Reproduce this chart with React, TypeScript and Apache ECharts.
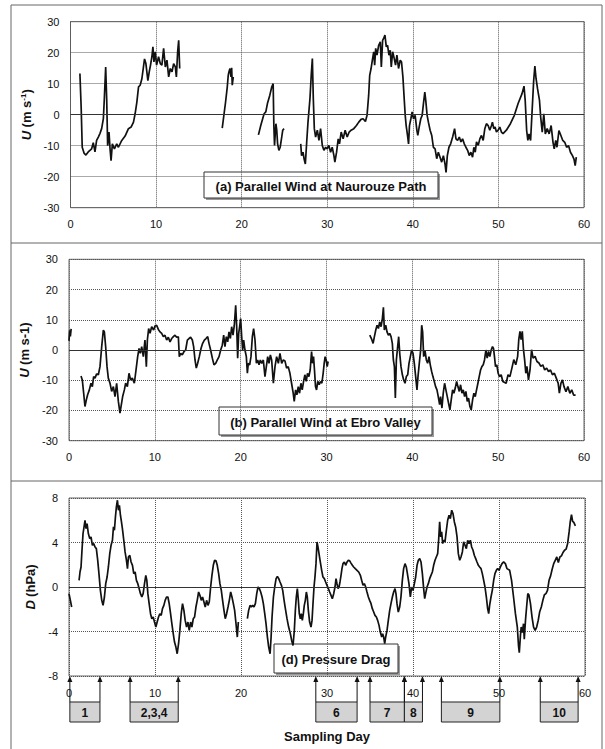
import React, { useEffect, useRef } from "react";
import * as echarts from "echarts";

type P = [number, number] | null;

// (a) Parallel wind at Naurouze Path (m s-1); null = data gap
const naurouzeWind: P[] = [
  [1.10,13.3],[1.25,2],[1.37,-10.5],[1.6,-12.5],[1.80,-13],[2.07,-12],[2.47,-11],[2.66,-9],[2.86,-12],[3.05,-8.3],[3.25,-7.2],[3.45,-6],[3.64,-4.5],[3.84,-1.3],[3.95,5],[4.11,15.4],[4.23,5],[4.34,-10],[4.50,-5.6],[4.62,-11],[4.74,-14.8],[4.89,-9.4],[5.13,-11],[5.40,-9.4],[5.60,-10.5],[5.99,-8.3],[6.38,-6.9],[6.77,-4.5],[7.08,-4],[7.36,-2.4],[7.55,0.3],[7.75,4],[7.95,9],[8.14,9.5],[8.34,11.6],[8.65,18],[8.81,16.5],[9.04,11],[9.20,13.8],[9.35,16],[9.51,18.7],[9.63,21.9],[9.75,17],[9.90,20.3],[10.06,16],[10.29,18.7],[10.49,16.5],[10.68,16],[10.88,21.4],[11.08,15.4],[11.27,17.6],[11.47,12.2],[11.66,14.9],[11.86,13.8],[12.05,16.5],[12.25,15.4],[12.37,12.2],[12.52,20.3],[12.64,24],[12.76,14.9],
  null,
  [17.73,-4.3],[18.12,4.1],[18.32,9],[18.43,12.7],[18.51,13.8],[18.63,14.9],[18.75,12.2],[18.83,15.1],[18.90,9.5],[19.02,12.2],
  null,
  [21.96,-6.5],[22.23,-3.5],[22.62,0.3],[22.82,0.9],[23.01,3.6],[23.29,6.3],[23.52,9],[23.68,10],[23.76,-3.5],[23.84,-9.9],[24.0,-2.9],[24.1,-5],[24.2,-9.4],[24.35,-11.5],[24.5,-10.5],[24.65,-7.8],[24.8,-5],[24.95,-4.5],
  null,
  [26.9,-9.4],[27.0,-13.2],[27.17,-12.1],[27.29,-14.2],[27.44,-15.9],[27.6,-8.8],[27.75,-2.4],[27.98,5.2],[28.14,13.3],[28.26,18.1],[28.37,5.2],[28.49,-4.5],[28.64,-7.2],[28.84,-5],[29.03,-8.3],[29.22,-4.5],[29.42,-9.9],[29.61,-11.5],[29.81,-10.5],[30.0,-11],[30.19,-9.9],[30.39,-12.1],[30.58,-10.5],[30.78,-13.2],[30.89,-15.3],[31.09,-12.1],[31.28,-7.8],[31.43,-9.4],[31.63,-5.6],[31.86,-7.8],[32.09,-5],[32.33,-7.2],[32.56,-5.6],[32.79,-5],[33.1,-4.5],[33.41,-3.5],[33.68,-2.4],[33.95,-1.5],[34.19,-1.3],[34.46,-2.2],[34.65,-0.2],[34.84,6.3],[34.96,12.7],[35.12,14.9],[35.27,17.6],[35.43,20.3],[35.54,16],[35.66,21.4],[35.81,19.2],[36.01,22.4],[36.2,23.5],[36.32,15.4],[36.47,24],[36.59,24.6],[36.74,25.7],[36.9,21.9],[37.05,22.4],[37.21,19.2],[37.36,20.8],[37.48,15.4],[37.64,20.3],[37.83,18.1],[37.98,16],[38.14,19.2],[38.33,14.9],[38.53,17.6],[38.68,17],[38.84,12.2],[38.99,5.2],[39.11,-0.2],[39.22,-3.5],[39.38,-6.7],[39.5,-9.4],[39.61,-3.5],[39.77,-1.3],[39.92,0.9],[40.08,-1.3],[40.27,-0.2],[40.47,-5],[40.58,-6.7],[40.74,-4],[40.93,-1.3],[41.09,-0.2],[41.24,3.6],[41.4,7.3],[41.51,4.6],[41.67,-0.2],[41.82,-2.4],[42.02,-5],[42.21,-6.7],[42.4,-10.5],[42.6,-11],[42.79,-14.2],[42.98,-12.1],[43.18,-13.7],[43.37,-15.3],[43.57,-13.2],[43.76,-15.9],[43.88,-18.6],[44.03,-13.2],[44.22,-10.5],[44.42,-9.4],[44.65,-7.2],[44.88,-4.5],[45.04,-7.8],[45.23,-8.3],[45.43,-7.2],[45.62,-8.8],[45.81,-7.8],[46.01,-9.4],[46.2,-10.5],[46.4,-11.5],[46.59,-13.2],[46.78,-12.1],[46.98,-13.7],[47.13,-10.5],[47.29,-12.1],[47.44,-8.8],[47.64,-9.9],[47.83,-7.8],[48.02,-6.7],[48.22,-8.3],[48.41,-4.5],[48.6,-2.9],[48.8,-3.5],[48.99,-5],[49.19,-3.5],[49.3,-2.4],[49.46,-4.5],[49.61,-4],[49.77,-5.6],[49.96,-5],[50.16,-4],[50.35,-5.6],[50.54,-6.1],[50.93,-5],[51.4,-2.9],[51.86,-0.2],[52.3,3.6],[52.76,6.8],[52.99,9.2],[53.13,4.6],[53.3,-5.1],[53.44,-8.3],[53.58,-6.2],[53.76,-8.3],[53.94,1.4],[54.12,11],[54.26,15.7],[54.4,11.6],[54.57,8.4],[54.8,4.6],[54.94,-0.8],[55.12,-5.6],[55.3,0.3],[55.48,-6.2],[55.7,-4.5],[55.93,-6.2],[56.16,-3.5],[56.38,-8.9],[56.52,-11],[56.7,-8.3],[56.84,-10.5],[57.07,-5.1],[57.3,-6.7],[57.52,-8.3],[57.75,-8.9],[57.97,-10.5],[58.2,-10],[58.42,-12.1],[58.65,-13.2],[58.83,-14.3],[58.97,-16.4],[59.1,-13.7]
];

// (b) Parallel wind at Ebro Valley (m s-1)
const ebroWind: P[] = [
  [0,3],[0.08,6.5],[0.16,4.5],[0.25,7],
  null,
  [1.4,-8.6],[1.55,-9.9],[1.71,-14.3],[1.86,-18.7],[2.02,-16.5],[2.17,-14.8],[2.37,-13.2],[2.56,-11],[2.72,-12.1],[2.87,-8.8],[3.03,-9.3],[3.22,-7.9],[3.42,-8.2],[3.61,-5.5],[3.81,1.1],[4.0,6.6],[4.12,6],[4.27,1.1],[4.43,-5.5],[4.58,-9.3],[4.78,-11],[4.97,-13.7],[5.17,-12.1],[5.36,-15.4],[5.55,-11],[5.75,-17],[5.94,-20.9],[6.06,-18.7],[6.25,-15.4],[6.45,-13.2],[6.6,-11],[6.8,-12.1],[6.99,-7.7],[7.18,-9.9],[7.38,-9.3],[7.61,-11],[7.81,-6.6],[8.0,-2.2],[8.16,0.5],[8.31,-1.1],[8.47,1.1],[8.66,-2.2],[8.85,3.3],[9.01,-5.5],[9.13,3.3],[9.28,7.1],[9.44,5.5],[9.63,7.7],[9.86,6.6],[10.02,7.9],[10.21,8.2],[10.41,6.8],[10.6,6],[10.8,5.5],[10.99,4.4],[11.18,4.9],[11.38,3.3],[11.57,4.2],[11.77,2.7],[11.96,3.8],[12.16,4.4],[12.35,4.9],[12.54,4.2],[12.74,4.4],[12.85,-2.2],[13.01,-1.1],[13.2,-1.6],[13.4,-0.5],[13.59,0],[13.79,3.3],[13.98,3.8],[14.17,4.2],[14.37,3.3],[14.52,1.1],[14.68,-3.3],[14.83,-6],[14.99,-4.4],[15.18,-2.2],[15.38,0.5],[15.57,2.2],[15.77,3.3],[15.96,3.8],[16.16,4.4],[16.31,2.2],[16.5,0],[16.7,-2.7],[16.89,-4.9],[17.09,-4.4],[17.28,-3.3],[17.48,-2.2],[17.67,0],[17.86,1.6],[18.02,4.9],[18.17,1.1],[18.33,4.4],[18.49,2.7],[18.64,6],[18.8,3.8],[18.95,7.7],[19.11,4.9],[19.26,8.2],[19.42,14.8],[19.53,8.2],[19.65,-2.7],[19.77,5.5],[19.88,7.7],[20.0,10.4],[20.12,4.4],[20.23,0],[20.35,3.3],[20.5,0],[20.66,-2.2],[20.78,-7.7],[20.89,-4.4],[21.05,-4.9],[21.2,-2.2],[21.36,4.4],[21.51,7.1],[21.67,3.3],[21.83,-4.4],[21.98,-3.3],[22.14,-4.9],[22.29,-3.3],[22.45,-4.4],[22.64,-3.3],[22.83,-8.8],[22.99,-5.5],[23.15,-2.2],[23.3,-4.4],[23.46,-1.6],[23.61,-3.3],[23.81,-11],[24.0,-5.5],[24.19,-2.2],[24.39,-4.4],[24.58,-1.1],[24.78,-4.4],[24.97,-3.3],[25.16,-3.6],[25.35,-6],[25.54,-5.5],[25.74,-7.7],[25.93,-11],[26.12,-14.3],[26.24,-17],[26.4,-13.2],[26.55,-14.8],[26.71,-12.1],[26.86,-14.3],[27.02,-11],[27.17,-13.2],[27.33,-10.4],[27.48,-8.2],[27.64,-10.4],[27.79,-7.7],[27.95,-8.8],[28.1,-6.6],[28.26,-0.5],[28.37,-4.4],[28.49,-2.2],[28.6,-6.6],[28.72,-12.1],[28.84,-13.2],[28.99,-10.4],[29.15,-11.5],[29.3,-10.4],[29.46,-11],[29.61,-7.7],[29.73,-4.4],[29.84,-2.2],[29.96,-3.3],[30.08,-5.5],[30.19,-3.8],
  null,
  [35.04,4.9],[35.23,3.8],[35.43,2.2],[35.58,4.4],[35.74,6.6],[35.89,8.2],[36.05,7.1],[36.2,9.3],[36.36,7.7],[36.51,10.4],[36.63,14.1],[36.74,6.6],[36.9,8.2],[37.05,6],[37.21,4.9],[37.36,5.5],[37.52,4.4],[37.67,2.2],[37.79,-3.3],[37.91,-5.5],[38.02,-15.9],[38.14,-3.3],[38.29,1.1],[38.41,4.4],[38.53,-1.1],[38.68,-5.5],[38.84,-8.2],[38.99,-9.9],[39.15,-11],[39.3,-8.8],[39.46,-8.2],[39.61,-4.4],[39.77,-2.2],[39.92,0],[40.08,-1.1],[40.23,-4.4],[40.39,-8.8],[40.54,-13.2],[40.66,-8.8],[40.81,-4.4],[40.97,0],[41.09,8.2],[41.2,6],[41.32,-2.2],[41.47,0],[41.63,-3.3],[41.78,-4.4],[41.94,-2.2],[42.09,-4.9],[42.25,-7.1],[42.4,-8.8],[42.56,-10.4],[42.71,-12.1],[42.87,-13.2],[43.02,-15.4],[43.18,-18.1],[43.29,-15.4],[43.45,-19.2],[43.6,-14.3],[43.76,-11],[43.91,-13.2],[44.07,-15.4],[44.22,-17.6],[44.38,-19.8],[44.53,-16.5],[44.69,-13.2],[44.84,-14.3],[45.0,-12.6],[45.16,-10.4],[45.31,-12.1],[45.47,-13.7],[45.62,-11.5],[45.78,-14.3],[45.93,-13.2],[46.09,-15.4],[46.24,-13.7],[46.4,-17],[46.55,-15.9],[46.71,-18.7],[46.86,-19.8],[47.02,-16.5],[47.17,-14.3],[47.33,-15.4],[47.48,-13.2],[47.64,-11],[47.79,-8.8],[47.95,-6.6],[48.1,-5.5],[48.26,-4.9],[48.41,-3.3],[48.57,0],[48.72,-2.7],[48.88,-0.5],[49.03,-2.2],[49.19,0],[49.34,1.1],[49.46,0.5],[49.57,-2.2],[49.69,-5.5],[49.84,-4.9],[50.0,-7.7],[50.16,-8.8],[50.35,-8.2],[50.54,-10.4],[50.93,-11],[51.15,-8.2],[51.37,-8.8],[51.6,-6],[51.82,-3.2],[52.05,-4.9],[52.27,-2.1],[52.4,3.4],[52.54,6.2],[52.67,3.4],[52.81,6.2],[52.95,0.1],[53.08,-3.2],[53.22,-7.7],[53.35,-5.4],[53.53,-9.9],[53.71,-6.6],[53.89,0.1],[54.07,-2.7],[54.3,-2.1],[54.52,-3.8],[54.75,-4.3],[54.97,-5.4],[55.2,-4.9],[55.42,-6.6],[55.65,-6],[55.87,-7.1],[56.1,-6.6],[56.32,-8.2],[56.55,-7.7],[56.77,-9.3],[56.99,-11],[57.13,-14.3],[57.31,-11],[57.49,-9.9],[57.67,-12.1],[57.9,-13.8],[58.12,-12.1],[58.35,-14.3],[58.57,-13.2],[58.79,-14.9],[59.02,-14.9]
];

// (d) Pressure drag (hPa)
const pressureDrag: P[] = [
  [0,-0.6],[0.16,-1.2],[0.31,-1.8],
  null,
  [1.17,0.6],[1.28,1.35],[1.4,1.8],[1.51,3.3],[1.63,4.8],[1.75,5.4],[1.86,6],[1.98,5.25],[2.1,5.7],[2.25,4.8],[2.41,4.35],[2.56,4.5],[2.72,3.75],[2.87,3.9],[3.03,3.6],[3.18,3.45],[3.34,2.4],[3.5,1.05],[3.65,-0.3],[3.81,-1.2],[3.96,-1.65],[4.12,-0.9],[4.27,0.3],[4.43,0.9],[4.58,1.8],[4.74,3],[4.89,3.75],[5.05,4.2],[5.17,5.4],[5.28,5.1],[5.4,6.3],[5.51,7.2],[5.63,7.8],[5.75,6.9],[5.86,7.35],[5.98,6.45],[6.1,5.85],[6.21,5.25],[6.37,4.2],[6.52,3.15],[6.68,2.4],[6.8,1.65],[6.91,2.7],[7.07,2.85],[7.22,2.25],[7.38,1.95],[7.53,1.2],[7.69,1.35],[7.84,0.6],[8.0,0.3],[8.16,-0.15],[8.31,-0.6],[8.47,-0.9],[8.62,-0.6],[8.78,0.3],[8.93,1.05],[9.05,0.6],[9.17,-0.6],[9.32,-1.5],[9.48,-2.4],[9.63,-2.85],[9.79,-2.7],[9.94,-3.15],[10.1,-3.6],[10.25,-3.15],[10.41,-2.7],[10.56,-2.4],[10.72,-2.55],[10.87,-1.95],[11.03,-1.65],[11.18,-1.2],[11.34,-0.9],[11.5,-0.9],[11.65,-1.5],[11.81,-2.4],[11.96,-3.3],[12.12,-4.2],[12.27,-4.95],[12.43,-5.4],[12.58,-6],[12.74,-5.1],[12.89,-3.9],[13.05,-2.4],[13.2,-1.5],[13.36,-2.1],[13.51,-3],[13.67,-3.6],[13.83,-3.15],[13.98,-3.9],[14.14,-3.15],[14.29,-3.6],[14.45,-2.85],[14.6,-2.7],[14.76,-1.8],[14.91,-1.2],[15.07,-0.45],[15.22,-0.75],[15.38,-1.2],[15.53,-0.9],[15.69,-1.35],[15.84,-1.8],[16.0,-1.2],[16.16,-1.65],[16.31,-1.35],[16.47,0],[16.62,1.05],[16.78,1.95],[16.93,2.4],[17.09,2.35],[17.24,1.95],[17.4,1.2],[17.55,0.3],[17.71,-0.3],[17.86,-1.2],[18.02,-2.1],[18.17,-2.85],[18.33,-2.4],[18.49,-1.8],[18.64,-1.2],[18.8,-0.45],[18.95,-0.9],[19.11,-1.5],[19.26,-2.1],[19.42,-3.3],[19.57,-4.5],[19.69,-3.15],
  null,
  [20.74,-2.85],[20.89,-2.1],[21.05,-1.65],[21.2,-1.8],[21.36,-1.65],[21.51,-1.8],[21.67,-1.5],[21.83,-0.6],[21.98,0],[22.14,-0.15],[22.29,-0.45],[22.45,-0.9],[22.6,-1.5],[22.76,-2.4],[22.91,-3.3],[23.07,-4.5],[23.22,-5.4],[23.38,-6],[23.5,-4.5],[23.61,-2.7],[23.77,-0.9],[23.92,0],[24.08,0.75],[24.23,0.95],[24.39,0.75],[24.54,0.45],[24.7,0.15],[24.85,-0.3],[25.01,-1.2],[25.16,-1.95],[25.35,-2.85],[25.54,-3.6],[25.74,-4.2],[25.89,-4.8],[26.05,-5.25],[26.2,-3.9],[26.32,-2.1],[26.43,-0.9],[26.55,-0.15],[26.67,-1.2],[26.78,-2.4],[26.9,-2.85],[27.02,-2.4],[27.13,-3],[27.25,-2.4],[27.36,-1.65],[27.48,-1.2],[27.6,-0.45],[27.71,-0.9],[27.83,-2.1],[27.98,-3.15],[28.14,-3.6],[28.26,-3],[28.37,-1.5],[28.49,0],[28.6,0.9],[28.72,2.1],[28.84,4.05],[28.95,3.6],[29.07,3],[29.22,2.25],[29.38,1.5],[29.53,0.9],[29.69,0.75],[29.84,0.45],[30.0,0.15],[30.16,-0.15],[30.31,-0.45],[30.47,-0.75],[30.62,-1.05],[30.78,-0.6],[30.93,0],[31.05,0.75],[31.16,0.3],[31.28,-0.15],[31.4,0],[31.51,0.45],[31.63,1.05],[31.74,1.65],[31.86,2.1],[32.02,2.25],[32.17,1.95],[32.33,2.25],[32.48,2.4],[32.64,2.35],[32.79,2.15],[32.95,1.95],[33.1,1.8],[33.29,1.65],[33.49,1.5],[33.68,1.35],[33.88,1.05],[34.03,0.6],[34.19,0.15],[34.34,0.3],[34.5,0],[34.65,-0.45],[34.81,-0.9],[34.96,-1.2],[35.12,-1.5],[35.27,-1.95],[35.43,-2.25],[35.58,-2.55],[35.74,-2.7],[35.89,-3],[36.05,-3.45],[36.2,-4.05],[36.36,-4.5],[36.47,-4.2],[36.59,-4.5],[36.71,-5.1],[36.82,-4.5],[36.98,-3.9],[37.13,-3],[37.29,-2.1],[37.44,-1.5],[37.6,-0.9],[37.75,-0.45],[37.91,-0.15],[38.02,-0.6],[38.14,-1.5],[38.29,-2.25],[38.45,-1.8],[38.6,-0.9],[38.76,0.6],[38.91,1.65],[39.07,2.1],[39.22,1.8],[39.38,1.05],[39.53,0.3],[39.69,-0.9],[39.84,0],[40.0,-0.3],[40.16,0.3],[40.31,0.9],[40.47,1.95],[40.62,2.4],[40.78,2.55],[40.93,2.25],[41.09,1.2],[41.24,-0.15],[41.36,-1.05],[41.47,-0.6],[41.63,0],[41.78,0.3],[41.94,0.75],[42.09,1.05],[42.25,1.35],[42.4,1.95],[42.56,2.4],[42.71,2.7],[42.87,3],[42.98,4.2],[43.1,5.85],[43.22,4.5],[43.33,4.95],[43.45,3.9],[43.57,4.2],[43.72,4.05],[43.88,5.1],[44.03,6],[44.19,6.45],[44.34,6.15],[44.5,6.9],[44.65,6.6],[44.81,5.85],[44.96,5.4],[45.12,4.5],[45.27,3],[45.43,2.4],[45.58,2.7],[45.74,3.15],[45.89,4.05],[46.05,3.75],[46.2,3.45],[46.36,4.2],[46.51,3.9],[46.67,4.2],[46.82,3.6],[46.98,3.3],[47.13,2.85],[47.29,2.55],[47.44,2.25],[47.6,1.95],[47.75,1.8],[47.91,1.65],[48.06,1.2],[48.22,0.6],[48.37,0],[48.53,-0.9],[48.68,-1.95],[48.8,-2.4],[48.91,-1.65],[49.07,-0.9],[49.22,-0.3],[49.38,0.6],[49.53,1.2],[49.69,1.5],[49.84,1.65],[50.0,1.5],[50.16,1.8],[50.35,2.1],[50.54,2.25],[50.74,2.1],[50.93,1.65],[51.24,1.5],[51.46,0.6],[51.69,-0.9],[51.91,-2.4],[52.13,-3.6],[52.27,-5.3],[52.36,-5.9],[52.49,-4.4],[52.58,-3.6],[52.72,-4.1],[52.85,-3.3],[52.94,-4.7],[53.08,-3],[53.21,-1.8],[53.35,-0.6],[53.48,-0.7],[53.66,-1.5],[53.84,-2.7],[54.02,-3.6],[54.2,-3.9],[54.38,-3.6],[54.56,-3],[54.74,-2.2],[54.92,-1.8],[55.1,-1.2],[55.28,-0.7],[55.46,-0.6],[55.64,-0.3],[55.82,0.6],[56.0,1],[56.18,1.6],[56.36,2.1],[56.54,2.4],[56.72,2.7],[56.9,2.2],[57.08,2.7],[57.26,2.8],[57.44,3.1],[57.62,3.3],[57.8,3.4],[57.98,3.9],[58.16,5],[58.29,5.9],[58.43,6.5],[58.56,5.9],[58.7,5.8],[58.88,5.5]
];

// Sampling-period boxes below the day axis
const eventLabels = ["1", "2,3,4", "6", "7", "8", "9", "10"];
const eventStart = [0.1, 7.1, 28.7, 35.0, 39.0, 43.3, 54.8];
const eventEnd = [3.6, 12.7, 33.5, 39.0, 41.1, 50.1, 59.2];

const dayTicks = { min: 0, max: 60, interval: 10 };
const windTicks = { min: -30, max: 30, interval: 10 };
const dragTicks = { min: -8, max: 8, interval: 4 };

const FONT = 'Arial, "Liberation Sans", Helvetica, sans-serif';

function segments(data: P[]): [number, number][][] {
  const out: [number, number][][] = [];
  let cur: [number, number][] = [];
  for (const p of data) {
    if (p === null) {
      if (cur.length) out.push(cur);
      cur = [];
    } else cur.push(p);
  }
  if (cur.length) out.push(cur);
  return out;
}

export default function App() {
  const ref = useRef<HTMLDivElement>(null);
  useEffect(() => {
    if (!ref.current) return;
    const chart = echarts.init(ref.current, undefined, { renderer: "svg" });

    const grids = [
      { left: 70.5, top: 21.7, width: 513.5, height: 186 },
      { left: 69, top: 259.3, width: 515, height: 181.4 },
      { left: 69, top: 498, width: 516, height: 178 },
      { left: 69, top: 676, width: 516, height: 46 },
    ].map((g) => ({
      ...g,
      show: g.top < 670,
      borderColor: "#666",
      borderWidth: 1,
      backgroundColor: "transparent",
      containLabel: false,
    }));

    const labelStyle = { fontFamily: FONT, fontSize: 11, color: "#111" };
    const mkX = (i: number) => ({
      type: "value",
      gridIndex: i,
      ...dayTicks,
      show: i < 3,
      axisLine: { show: false },
      axisTick: { show: false },
      axisLabel: { ...labelStyle, margin: 11 },
      splitLine: { show: true, lineStyle: { type: "dotted", color: "#555", width: 1 } },
    });
    const nameRich = {
      i: { fontFamily: FONT, fontSize: 13, fontWeight: "bold", fontStyle: "italic", color: "#111" },
      b: { fontFamily: FONT, fontSize: 13, fontWeight: "bold", color: "#111" },
      s: { fontFamily: FONT, fontSize: 8, fontWeight: "bold", color: "#111", verticalAlign: "top", padding: [0, 0, 6, 0] },
    };
    const mkY = (i: number, ticks: any, name: string) => ({
      type: "value",
      gridIndex: i,
      ...ticks,
      name,
      nameLocation: "middle",
      nameGap: 25,
      nameRotate: 90,
      nameTextStyle: { rich: nameRich },
      axisLine: { show: false },
      axisTick: { show: false },
      axisLabel: { ...labelStyle, margin: 11 },
      splitLine: { show: true, lineStyle: { type: "dotted", color: "#555", width: 1 } },
    });

    const zeroLine = {
      silent: true,
      symbol: ["none", "none"],
      label: { show: false },
      lineStyle: { color: "#333", type: "solid", width: 1 },
      data: [{ yAxis: 0 }],
    };

    const series: any[] = [];
    [naurouzeWind, ebroWind, pressureDrag].forEach((d, i) => {
      segments(d).forEach((seg, j) => {
        series.push({
          type: "line",
          xAxisIndex: i,
          yAxisIndex: i,
          data: seg,
          symbol: "none",
          showSymbol: false,
          silent: true,
          z: 3,
          lineStyle: { color: "#111", width: 1.7 },
          markLine: j === 0 ? zeroLine : undefined,
        });
      });
    });

    series.push({
      type: "custom",
      xAxisIndex: 3,
      yAxisIndex: 3,
      clip: false,
      silent: true,
      data: eventStart.map((s, k) => [s, eventEnd[k]]),
      renderItem: (params: any, api: any) => {
        const s = api.value(0);
        const e = api.value(1);
        const [xs, yTop] = api.coord([s, 1]);
        const [xe, yBot] = api.coord([e, 0]);
        const boxTop = api.coord([s, 0.435])[1];
        const arrow = (x: number) => [
          { type: "line", shape: { x1: x, y1: yTop + 4, x2: x, y2: boxTop }, style: { stroke: "#111", lineWidth: 1 } },
          { type: "polygon", shape: { points: [[x, yTop], [x - 2.5, yTop + 6], [x + 2.5, yTop + 6]] }, style: { fill: "#111" } },
        ];
        return {
          type: "group",
          children: [
            { type: "rect", shape: { x: xs, y: boxTop, width: xe - xs, height: yBot - boxTop }, style: { fill: "#d3d3d3", stroke: "#222", lineWidth: 1 } },
            ...arrow(xs),
            ...arrow(xe),
            {
              type: "text",
              style: {
                text: eventLabels[params.dataIndex],
                x: (xs + xe) / 2,
                y: (boxTop + yBot) / 2 + 1,
                align: "center",
                verticalAlign: "middle",
                font: `bold 12px ${FONT}`,
                fill: "#111",
              },
            },
          ],
        };
      },
    });

    const titleBox = (x: number, y: number, w: number, h: number, text: string) => ({
      type: "group",
      children: [
        { type: "rect", shape: { x: x + 2, y: y + 2, width: w, height: h }, style: { fill: "#999" } },
        { type: "rect", shape: { x, y, width: w, height: h }, style: { fill: "#fff", stroke: "#333", lineWidth: 1 } },
        {
          type: "text",
          style: { text, x: x + w / 2, y: y + h / 2 + 1, align: "center", verticalAlign: "middle", font: `bold 13px ${FONT}`, fill: "#111" },
        },
      ],
    });

    const frameLine = (x1: number, y1: number, x2: number, y2: number) => ({
      type: "line",
      shape: { x1, y1, x2, y2 },
      style: { stroke: "#666", lineWidth: 1 },
    });

    chart.setOption({
      animation: false,
      grid: grids,
      xAxis: [mkX(0), mkX(1), mkX(2), { ...mkX(3), show: false }],
      yAxis: [
        mkY(0, windTicks, "{i|U} {b|(m s}{s|-1}{b|)}"),
        mkY(1, windTicks, "{i|U} {b|(m s-1)}"),
        mkY(2, dragTicks, "{i|D} {b|(hPa)}"),
        { type: "value", gridIndex: 3, min: 0, max: 1, show: false },
      ],
      series,
      graphic: [
        frameLine(11, 5, 602, 5),
        frameLine(11, 5, 11, 749),
        frameLine(602, 5, 602, 749),
        frameLine(11, 243, 602, 243),
        frameLine(11, 481, 602, 481),
        titleBox(204, 172, 234, 26, "(a) Parallel Wind at Naurouze Path"),
        titleBox(219, 407, 213, 28, "(b) Parallel Wind at Ebro Valley"),
        titleBox(274, 644, 124, 29, "(d) Pressure Drag"),
        {
          type: "text",
          style: { text: "Sampling Day", x: 327, y: 736, align: "center", verticalAlign: "middle", font: `bold 13px ${FONT}`, fill: "#111" },
        },
      ],
    });
    return () => chart.dispose();
  }, []);
  return (
    <div
      ref={ref}
      style={{ position: "absolute", left: 0, top: 0, width: 605, height: 749, background: "#fff" }}
    />
  );
}
